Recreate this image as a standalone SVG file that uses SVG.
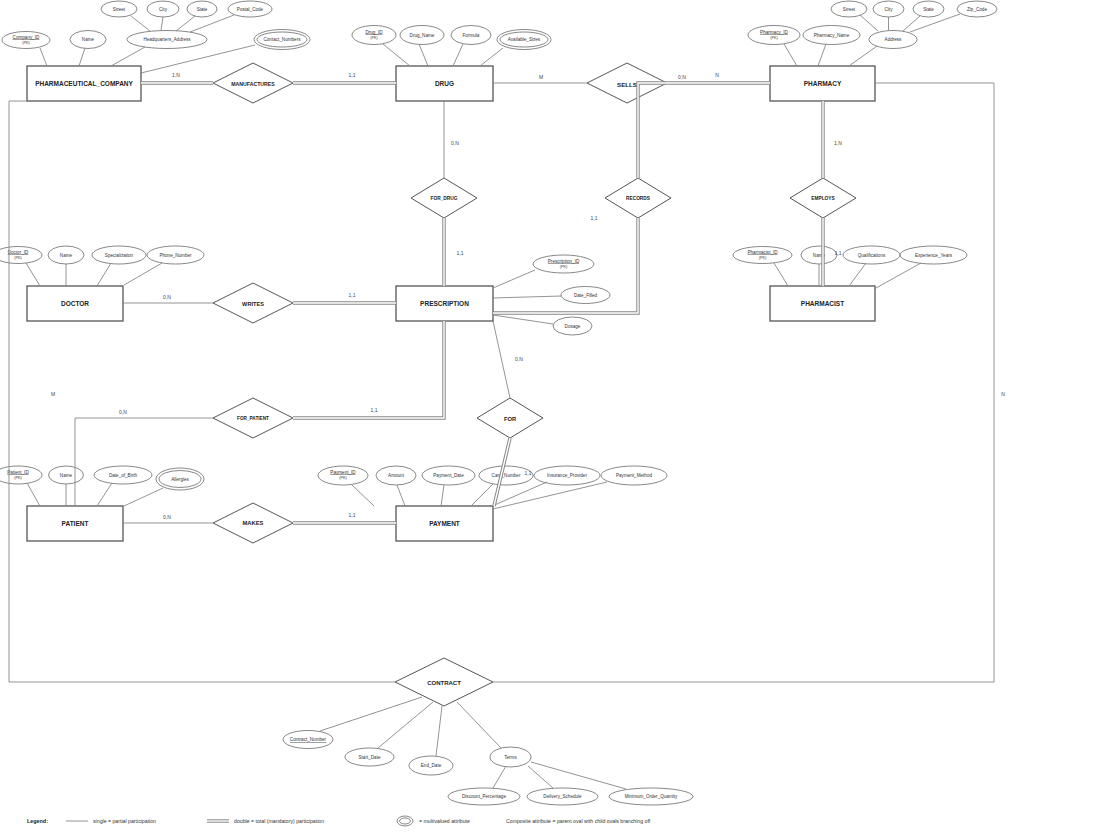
<svg xmlns="http://www.w3.org/2000/svg" width="1100" height="836" viewBox="0 0 1100 836">
<style>
text{font-family:"Liberation Sans",Arial,sans-serif;text-anchor:middle;dominant-baseline:central}
.ent rect{fill:#fff;stroke:#555;stroke-width:1.3}
.ent text{font-weight:bold;font-size:6.5px;fill:#222}
.rel polygon{fill:#fff;stroke:#555;stroke-width:1}
.rel text{font-weight:bold;font-size:5.2px;fill:#222}
.att ellipse{fill:#fff;stroke:#555;stroke-width:0.7}
.att text{font-size:4.6px;fill:#333}
.att .pk{text-decoration:underline}
.att .k{font-size:3.8px}
.ln{stroke:#888;stroke-width:0.9;fill:none}
.do{stroke:#888;stroke-width:3.4;fill:none}
.di{stroke:#fff;stroke-width:1.4;fill:none}
.lbl{font-size:5px;fill:#444}
.leg{font-size:5.2px;fill:#333;text-anchor:start}
</style>
<rect width="1100" height="836" fill="#fff"/>

<!-- Entities -->
<g id="PHARMACEUTICAL_COMPANY" class="ent"><rect x="27" y="66" width="114" height="35"/><text x="84" y="83.5">PHARMACEUTICAL_COMPANY</text></g>
<g id="DRUG" class="ent"><rect x="396" y="66" width="97" height="35"/><text x="444.5" y="83.5">DRUG</text></g>
<g id="PHARMACY" class="ent"><rect x="770" y="66" width="105" height="35"/><text x="822.5" y="83.5">PHARMACY</text></g>
<g id="DOCTOR" class="ent"><rect x="27" y="286" width="96" height="35"/><text x="75" y="303.5">DOCTOR</text></g>
<g id="PRESCRIPTION" class="ent"><rect x="396" y="286" width="97" height="35"/><text x="444.5" y="303.5">PRESCRIPTION</text></g>
<g id="PHARMACIST" class="ent"><rect x="770" y="286" width="105" height="35"/><text x="822.5" y="303.5">PHARMACIST</text></g>
<g id="PATIENT" class="ent"><rect x="27" y="506" width="96" height="35"/><text x="75" y="523.5">PATIENT</text></g>
<g id="PAYMENT" class="ent"><rect x="396" y="506" width="97" height="35"/><text x="444.5" y="523.5">PAYMENT</text></g>

<!-- Relationships -->
<g id="MANUFACTURES" class="rel"><polygon points="213,83 253,63 293,83 253,103"/><text x="253" y="84">MANUFACTURES</text></g>
<g id="SELLS" class="rel"><polygon points="587,83 627,63 667,83 627,103"/><text x="627" y="84" style="font-size:6.2px">SELLS</text></g>
<g id="FOR_DRUG" class="rel"><polygon points="411,198 444,178 477,198 444,218"/><text x="444" y="198.5" style="font-size:4.8px">FOR_DRUG</text></g>
<g id="RECORDS" class="rel"><polygon points="605,198 638,178 671,198 638,218"/><text x="638" y="198.5" style="font-size:4.8px">RECORDS</text></g>
<g id="EMPLOYS" class="rel"><polygon points="790,198 823,178 856,198 823,218"/><text x="823" y="198.5" style="font-size:4.8px">EMPLOYS</text></g>
<g id="WRITES" class="rel"><polygon points="213,303 253,283 293,303 253,323"/><text x="253" y="303.5" style="font-size:5.6px">WRITES</text></g>
<g id="FOR_PATIENT" class="rel"><polygon points="213,418 253,398 293,418 253,438"/><text x="253" y="418.5" style="font-size:4.7px">FOR_PATIENT</text></g>
<g id="FOR" class="rel"><polygon points="477,418 510,398 543,418 510,438"/><text x="510" y="418.5" style="font-size:5.8px">FOR</text></g>
<g id="MAKES" class="rel"><polygon points="213,523 253,503 293,523 253,543"/><text x="253" y="523" style="font-size:5.8px">MAKES</text></g>
<g id="CONTRACT" class="rel"><polygon points="395,682 444,658 493,682 444,706"/><text x="444" y="682.5" style="font-size:6px">CONTRACT</text></g>

<!-- Attributes: PHARMACEUTICAL_COMPANY -->
<g id="pc_company_id" class="att"><ellipse cx="26" cy="40" rx="24" ry="8.5"/><text class="pk" x="26" y="37">Company_ID</text><text class="k" x="26" y="42.5">(PK)</text></g>
<g id="pc_name" class="att"><ellipse cx="88" cy="39.5" rx="18" ry="9"/><text x="88" y="39.5">Name</text></g>
<g id="pc_hq" class="att"><ellipse cx="167" cy="39.5" rx="40" ry="9"/><text x="167" y="39.5">Headquarters_Address</text></g>
<g id="pc_street" class="att"><ellipse cx="119" cy="9" rx="18" ry="8"/><text x="119" y="9">Street</text></g>
<g id="pc_city" class="att"><ellipse cx="163" cy="9" rx="16" ry="8"/><text x="163" y="9">City</text></g>
<g id="pc_state" class="att"><ellipse cx="202" cy="9" rx="15" ry="8"/><text x="202" y="9">State</text></g>
<g id="pc_postal" class="att"><ellipse cx="250" cy="9" rx="22" ry="8"/><text x="250" y="9">Postal_Code</text></g>
<g id="pc_contact" class="att"><ellipse cx="282" cy="39.5" rx="28" ry="10"/><ellipse cx="282" cy="39.5" rx="25" ry="7.5"/><text x="282" y="39.5">Contact_Numbers</text></g>

<!-- Attributes: DRUG -->
<g id="drug_id" class="att"><ellipse cx="374" cy="35" rx="22" ry="9.5"/><text class="pk" x="374" y="32">Drug_ID</text><text class="k" x="374" y="37.5">(PK)</text></g>
<g id="drug_name" class="att"><ellipse cx="422" cy="35" rx="22" ry="9.5"/><text x="422" y="35">Drug_Name</text></g>
<g id="drug_formula" class="att"><ellipse cx="471" cy="35" rx="20" ry="9.5"/><text x="471" y="35">Formula</text></g>
<g id="drug_sizes" class="att"><ellipse cx="524" cy="39.5" rx="27" ry="10"/><ellipse cx="524" cy="39.5" rx="24" ry="7.5"/><text x="524" y="39.5">Available_Sizes</text></g>

<!-- Attributes: PHARMACY -->
<g id="ph_id" class="att"><ellipse cx="774" cy="35" rx="26" ry="9.5"/><text class="pk" x="774" y="32">Pharmacy_ID</text><text class="k" x="774" y="37.5">(PK)</text></g>
<g id="ph_name" class="att"><ellipse cx="831.5" cy="35" rx="28.5" ry="9.5"/><text x="831.5" y="35">Pharmacy_Name</text></g>
<g id="ph_address" class="att"><ellipse cx="893" cy="39.5" rx="24" ry="9"/><text x="893" y="39.5">Address</text></g>
<g id="ph_street" class="att"><ellipse cx="849" cy="9" rx="18" ry="8"/><text x="849" y="9">Street</text></g>
<g id="ph_city" class="att"><ellipse cx="888.5" cy="9" rx="15.5" ry="8"/><text x="888.5" y="9">City</text></g>
<g id="ph_state" class="att"><ellipse cx="928.5" cy="9" rx="15.5" ry="8"/><text x="928.5" y="9">State</text></g>
<g id="ph_zip" class="att"><ellipse cx="977" cy="9" rx="20" ry="8"/><text x="977" y="9">Zip_Code</text></g>

<!-- Attributes: DOCTOR -->
<g id="doc_id" class="att"><ellipse cx="18" cy="255" rx="24" ry="8.5"/><text class="pk" x="18" y="252">Doctor_ID</text><text class="k" x="18" y="257.5">(PK)</text></g>
<g id="doc_name" class="att"><ellipse cx="66" cy="255" rx="18" ry="9"/><text x="66" y="255">Name</text></g>
<g id="doc_spec" class="att"><ellipse cx="119" cy="255" rx="27" ry="9"/><text x="119" y="255">Specialization</text></g>
<g id="doc_phone" class="att"><ellipse cx="175.5" cy="255" rx="28.5" ry="9"/><text x="175.5" y="255">Phone_Number</text></g>

<!-- Attributes: PRESCRIPTION -->
<g id="pr_id" class="att"><ellipse cx="563.5" cy="264" rx="30.5" ry="9"/><text class="pk" x="563.5" y="261">Prescription_ID</text><text class="k" x="563.5" y="266.5">(PK)</text></g>
<g id="pr_date" class="att"><ellipse cx="585.5" cy="295" rx="24.5" ry="8.5"/><text x="585.5" y="295">Date_Filled</text></g>
<g id="pr_dosage" class="att"><ellipse cx="572.5" cy="326" rx="19.5" ry="9"/><text x="572.5" y="326">Dosage</text></g>

<!-- Attributes: PHARMACIST -->
<g id="pm_id" class="att"><ellipse cx="762.5" cy="255" rx="29.5" ry="8.5"/><text class="pk" x="762.5" y="252">Pharmacist_ID</text><text class="k" x="762.5" y="257.5">(PK)</text></g>
<g id="pm_name" class="att"><ellipse cx="819" cy="255" rx="18" ry="9"/><text x="819" y="255">Name</text></g>
<g id="pm_qual" class="att"><ellipse cx="871.5" cy="255" rx="28.5" ry="9"/><text x="871.5" y="255">Qualifications</text></g>
<g id="pm_exp" class="att"><ellipse cx="933.5" cy="255" rx="33.5" ry="9"/><text x="933.5" y="255">Experience_Years</text></g>

<!-- Attributes: PATIENT -->
<g id="pa_id" class="att"><ellipse cx="18" cy="475" rx="24" ry="9"/><text class="pk" x="18" y="472">Patient_ID</text><text class="k" x="18" y="477.5">(PK)</text></g>
<g id="pa_name" class="att"><ellipse cx="66" cy="475" rx="17.5" ry="9"/><text x="66" y="475">Name</text></g>
<g id="pa_dob" class="att"><ellipse cx="123" cy="475" rx="29" ry="9"/><text x="123" y="475">Date_of_Birth</text></g>
<g id="pa_allergies" class="att"><ellipse cx="180" cy="479" rx="24" ry="11"/><ellipse cx="180" cy="479" rx="21" ry="8.5"/><text x="180" y="479.5">Allergies</text></g>

<!-- Attributes: PAYMENT -->
<g id="py_id" class="att"><ellipse cx="343" cy="475.5" rx="25" ry="9.5"/><text class="pk" x="343" y="472">Payment_ID</text><text class="k" x="343" y="478">(PK)</text></g>
<g id="py_amount" class="att"><ellipse cx="396" cy="475.5" rx="20" ry="9.5"/><text x="396" y="475.5">Amount</text></g>
<g id="py_date" class="att"><ellipse cx="448.5" cy="475.5" rx="26.5" ry="9.5"/><text x="448.5" y="475.5">Payment_Date</text></g>
<g id="py_card" class="att"><ellipse cx="506" cy="475.5" rx="27" ry="9.5"/><text x="506" y="475.5">Card_Number</text></g>
<g id="py_ins" class="att"><ellipse cx="567" cy="475.5" rx="33" ry="9.5"/><text x="567" y="475.5">Insurance_Provider</text></g>
<g id="py_method" class="att"><ellipse cx="634" cy="475.5" rx="33" ry="9.5"/><text x="634" y="475.5">Payment_Method</text></g>

<!-- Attributes: CONTRACT -->
<g id="ct_number" class="att"><ellipse cx="308" cy="739.5" rx="25" ry="9"/><text class="pk" x="308" y="739.5">Contract_Number</text></g>
<g id="ct_start" class="att"><ellipse cx="369.5" cy="757" rx="24.5" ry="9"/><text x="369.5" y="757">Start_Date</text></g>
<g id="ct_end" class="att"><ellipse cx="431" cy="765.5" rx="22" ry="9.5"/><text x="431" y="765.5">End_Date</text></g>
<g id="ct_terms" class="att"><ellipse cx="510.5" cy="757" rx="20.5" ry="10"/><text x="510.5" y="757">Terms</text></g>
<g id="ct_discount" class="att"><ellipse cx="484" cy="796.5" rx="36" ry="8.5"/><text x="484" y="796.5">Discount_Percentage</text></g>
<g id="ct_delivery" class="att"><ellipse cx="562.5" cy="796.5" rx="35.5" ry="8.5"/><text x="562.5" y="796.5">Delivery_Schedule</text></g>
<g id="ct_minimum" class="att"><ellipse cx="651" cy="796.5" rx="42" ry="8.5"/><text x="651" y="796.5">Minimum_Order_Quantity</text></g>

<!-- Connectors -->
<g id="connectors">
  <path class="ln" d="M40,48 L47,66 M85,48 L79,66 M145,47 L111,66 M255,45 L141,73
    M131,16 L150,31 M163,17 L161,30 M195,16 L176,31 M234,15 L190,32
    M383,44 L410,66 M419,44 L428,66 M463,44 L453,66 M503,48 L480,66
    M784,44 L797,66 M826,44 L818,66 M877,46 L849,66
    M860,15 L878,31 M888.5,17 L888.5,30.5 M920,16 L903,31 M960,14 L910,32
    M26,263 L40,286 M66,264 L66,286 M111,263 L97,286 M162,263 L124,285
    M535,270 L493,288 M561,296 L493,298 M553,324 L493,315
    M774,263 L788,286 M819,264 L819,286 M866,263 L849,286 M921,263 L876,288
    M27,483 L40,506 M66,484 L66,506 M112,483 L97,506 M163,488 L124,506
    M352,485 L374,506 M397,485 L405,506 M444,485 L441,506 M493,484 L471,506 M547,482 L490,507 M607,482 L493,509
    M320,731 L422,697 M378,748 L433,702 M436,756 L442,706 M501,748 L457,702
    M506,766 L493,788 M528,766 L553,788 M531,762 L626,789"/>
  <path class="ln" d="M493,83 H587 M444,101 V178 M123,303 H213 M213,418 H75 V506 M493,321 L510,398 M123,523 H213"/>
  <path class="ln" d="M27,101 H9 V682 H395 M875,83 H994 V682 H493"/>
  <path class="do" d="M141,83 H213 M293,83 H396 M667,83 H770 M770,83 H638 V178 M638,218 V313 H493 M444,218 V286 M823,101 V178 M823,218 V286 M293,303 H396 M444,321 V418 H293 M510,438 L494,506 M293,523 H396"/>
  <path class="di" d="M141,83 H213 M293,83 H396 M667,83 H770 M770,83 H638 V178 M638,218 V313 H493 M444,218 V286 M823,101 V178 M823,218 V286 M293,303 H396 M444,321 V418 H293 M510,438 L494,506 M293,523 H396"/>
  <text class="lbl" x="176" y="75">1,N</text>
  <text class="lbl" x="352" y="75">1,1</text>
  <text class="lbl" x="541" y="77">M</text>
  <text class="lbl" x="682" y="77">0,N</text>
  <text class="lbl" x="717" y="75">N</text>
  <text class="lbl" x="455" y="143">0,N</text>
  <text class="lbl" x="838" y="143">1,N</text>
  <text class="lbl" x="594" y="218">1,1</text>
  <text class="lbl" x="460" y="253">1,1</text>
  <text class="lbl" x="838" y="253">1,1</text>
  <text class="lbl" x="167" y="297">0,N</text>
  <text class="lbl" x="352" y="295">1,1</text>
  <text class="lbl" x="519" y="359">0,N</text>
  <text class="lbl" x="53" y="394">M</text>
  <text class="lbl" x="1003" y="394">N</text>
  <text class="lbl" x="123" y="412">0,N</text>
  <text class="lbl" x="374" y="410">1,1</text>
  <text class="lbl" x="528" y="473">1,1</text>
  <text class="lbl" x="167" y="517">0,N</text>
  <text class="lbl" x="352" y="515">1,1</text>
</g>

<!-- Legend -->
<g id="legend">
  <text class="leg" x="27" y="821" style="font-weight:bold;font-size:5.4px;fill:#222">Legend:</text>
  <path class="ln" d="M66,821 H88"/>
  <text class="leg" x="93" y="821">single = partial participation</text>
  <path class="do" d="M207,821 H229"/>
  <path class="di" d="M207,821 H229"/>
  <text class="leg" x="234" y="821">double = total (mandatory) participation</text>
  <ellipse cx="405" cy="821" rx="8" ry="5" fill="#fff" stroke="#555" stroke-width="0.7"/>
  <ellipse cx="405" cy="821" rx="5.5" ry="3" fill="none" stroke="#555" stroke-width="0.7"/>
  <text class="leg" x="419" y="821">= multivalued attribute</text>
  <text class="leg" x="506" y="821">Composite attribute = parent oval with child ovals branching off</text>
</g>
</svg>
